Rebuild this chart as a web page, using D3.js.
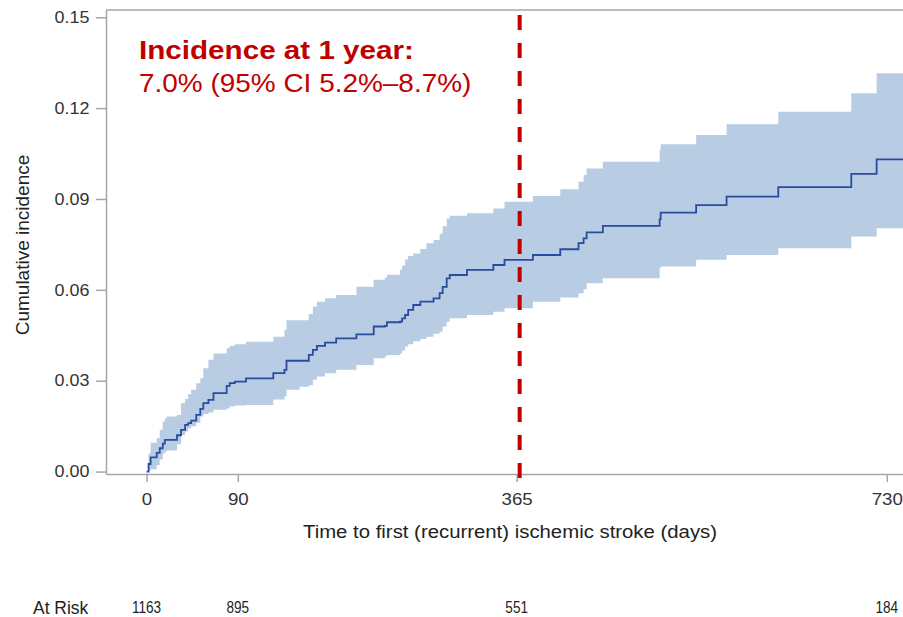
<!DOCTYPE html>
<html>
<head>
<meta charset="utf-8">
<script src="https://cdn.jsdelivr.net/npm/d3@7"></script>
<style>
  html, body { margin: 0; padding: 0; background: #fff; }
  svg { display: block; font-family: "Liberation Sans", Arial, sans-serif; }
</style>
</head>
<body>
<svg id="chart" width="903" height="617"></svg>
<script>
// ---- Data ----
const days =      [0, 2, 4, 10, 13, 16, 18, 20, 30, 34, 38, 41, 44, 49, 53, 56, 61, 66, 79, 82, 87, 98, 125, 136, 138, 151, 160, 164, 168, 176, 187, 207, 224, 235, 237, 250, 252, 255, 258, 263, 270, 276, 283, 289, 292, 296, 299, 316, 342, 353, 381, 408, 426, 431, 434, 450, 506, 507, 542, 572, 623, 695, 720, 746];
const incidence = [0, .0025, .0047, .0062, .0077, .0092, .0105, .0105, .0120, .0138, .0154, .0160, .0168, .0187, .0207, .0226, .0237, .0259, .0283, .0292, .0297, .0308, .0325, .0336, .0366, .0366, .0385, .0402, .0415, .0426, .0440, .0453, .0479, .0481, .0493, .0495, .0506, .0517, .0534, .0550, .0561, .0561, .0572, .0589, .0610, .0638, .0649, .0666, .0682, .0699, .0715, .0734, .0754, .0770, .0790, .0811, .0833, .0855, .0880, .0908, .0939, .0983, .1031, .1031];
const ciLower =   [0, .0003, .0008, .0022, .0040, .0060, .0066, .0070, .0090, .0121, .0132, .0143, .0150, .0160, .0182, .0190, .0195, .0204, .0208, .0215, .0218, .0220, .0238, .0248, .0270, .0280, .0285, .0303, .0314, .0325, .0336, .0352, .0374, .0380, .0385, .0390, .0400, .0413, .0420, .0430, .0438, .0445, .0455, .0462, .0479, .0495, .0506, .0517, .0528, .0539, .0561, .0575, .0589, .0602, .0622, .0638, .0671, .0677, .0699, .0715, .0737, .0776, .0803, .0803];
const ciUpper =   [0, .0060, .0095, .0110, .0138, .0165, .0175, .0182, .0187, .0226, .0240, .0255, .0270, .0292, .0308, .0341, .0369, .0390, .0407, .0415, .0420, .0429, .0445, .0468, .0500, .0500, .0520, .0545, .0561, .0572, .0583, .0610, .0633, .0640, .0650, .0666, .0680, .0700, .0712, .0720, .0735, .0754, .0765, .0785, .0810, .0836, .0845, .0853, .0869, .0891, .0910, .0932, .0957, .0979, .1001, .1023, .1062, .1081, .1111, .1147, .1188, .1249, .1315, .1315];

const xTicks = [0, 90, 365, 730];
const yTicks = [0, 0.03, 0.06, 0.09, 0.12, 0.15];
const riskDays = [0, 90, 365, 730];
const atRisk = [1163, 895, 551, 184];
const markerDay = 365;
const titleLine1 = "Incidence at 1 year:";
const titleLine2 = "7.0% (95% CI 5.2%\u20138.7%)";
const xLabel = "Time to first (recurrent) ischemic stroke (days)";
const yLabel = "Cumulative incidence";

// ---- Layout ----
const svg = d3.select("#chart");
const x = d3.scaleLinear().domain([-40, 746]).range([106, 903]);
const y = d3.scaleLinear().domain([-0.0008, 0.1524]).range([474, 10]);

const data = days.map((d, i) => ({ day: d, est: incidence[i], lo: ciLower[i], hi: ciUpper[i] }));

const axisColor = "#a6a6a6";
const textColor = "#333";
const red = "#c00000";

// Confidence band
svg.append("path")
  .datum(data)
  .attr("fill", "#b8cce4")
  .attr("d", d3.area().curve(d3.curveStepAfter)
    .x(d => x(d.day)).y0(d => y(d.lo)).y1(d => y(d.hi)));

// Estimate line
svg.append("path")
  .datum(data)
  .attr("fill", "none")
  .attr("stroke", "#2a4c9e")
  .attr("stroke-width", 1.8)
  .attr("d", d3.line().curve(d3.curveStepAfter)
    .x(d => x(d.day)).y(d => y(d.est)));

// Top frame line
svg.append("line")
  .attr("x1", x.range()[0]).attr("x2", x.range()[1])
  .attr("y1", y.range()[1]).attr("y2", y.range()[1])
  .attr("stroke", axisColor).attr("stroke-width", 1.5);

// Y axis
const gy = svg.append("g")
  .attr("transform", `translate(${x.range()[0]},0)`)
  .call(d3.axisLeft(y).tickValues(yTicks).tickFormat(d3.format(".2f"))
    .tickSize(10).tickSizeOuter(0).tickPadding(5));
gy.select(".domain").attr("stroke", axisColor).attr("stroke-width", 1.5);
gy.selectAll(".tick line").attr("stroke", axisColor).attr("stroke-width", 1.5);
gy.selectAll(".tick text")
  .attr("fill", textColor).attr("font-size", 16.3)
  .attr("font-family", "Liberation Sans, Arial, sans-serif")
  .attr("transform", "scale(1.1,1)");

// X axis
const gx = svg.append("g")
  .attr("transform", `translate(0,${y.range()[0]})`)
  .call(d3.axisBottom(x).tickValues(xTicks).tickFormat(d3.format("d"))
    .tickSize(8).tickSizeOuter(0).tickPadding(11));
gx.select(".domain").attr("stroke", axisColor).attr("stroke-width", 1.5);
gx.selectAll(".tick line").attr("stroke", axisColor).attr("stroke-width", 1.5);
gx.selectAll(".tick text")
  .attr("fill", textColor).attr("font-size", 17)
  .attr("font-family", "Liberation Sans, Arial, sans-serif")
  .attr("transform", "scale(1.1,1)");

// Red dashed 1-year marker
svg.append("line")
  .attr("x1", x(markerDay) + 3).attr("x2", x(markerDay) + 3)
  .attr("y1", 15).attr("y2", y.range()[0] + 4)
  .attr("stroke", red).attr("stroke-width", 4)
  .attr("stroke-dasharray", "15,13");

// Annotation
svg.append("text")
  .attr("transform", "translate(139,59) scale(1.14,1)")
  .attr("fill", red).attr("font-size", 26).attr("font-weight", "bold")
  .text(titleLine1);
svg.append("text")
  .attr("transform", "translate(139,92) scale(1.075,1)")
  .attr("fill", red).attr("font-size", 26)
  .text(titleLine2);

// Axis titles
svg.append("text")
  .attr("transform", "translate(510,538) scale(1.1,1)")
  .attr("text-anchor", "middle")
  .attr("fill", "#222").attr("font-size", 18.5)
  .text(xLabel);
svg.append("text")
  .attr("transform", "translate(29,245) rotate(-90)")
  .attr("text-anchor", "middle")
  .attr("fill", "#222").attr("font-size", 19)
  .text(yLabel);

// At-risk row
svg.append("text")
  .attr("transform", "translate(33,614) scale(0.92,1)")
  .attr("fill", "#222").attr("font-size", 19)
  .text("At Risk");
svg.selectAll(".risk")
  .data(riskDays)
  .enter().append("text")
  .attr("class", "risk")
  .attr("transform", (d) => `translate(${x(d)},613) scale(0.85,1)`)
  .attr("text-anchor", "middle")
  .attr("fill", "#222").attr("font-size", 16)
  .text((d, i) => atRisk[i]);
</script>
</body>
</html>
